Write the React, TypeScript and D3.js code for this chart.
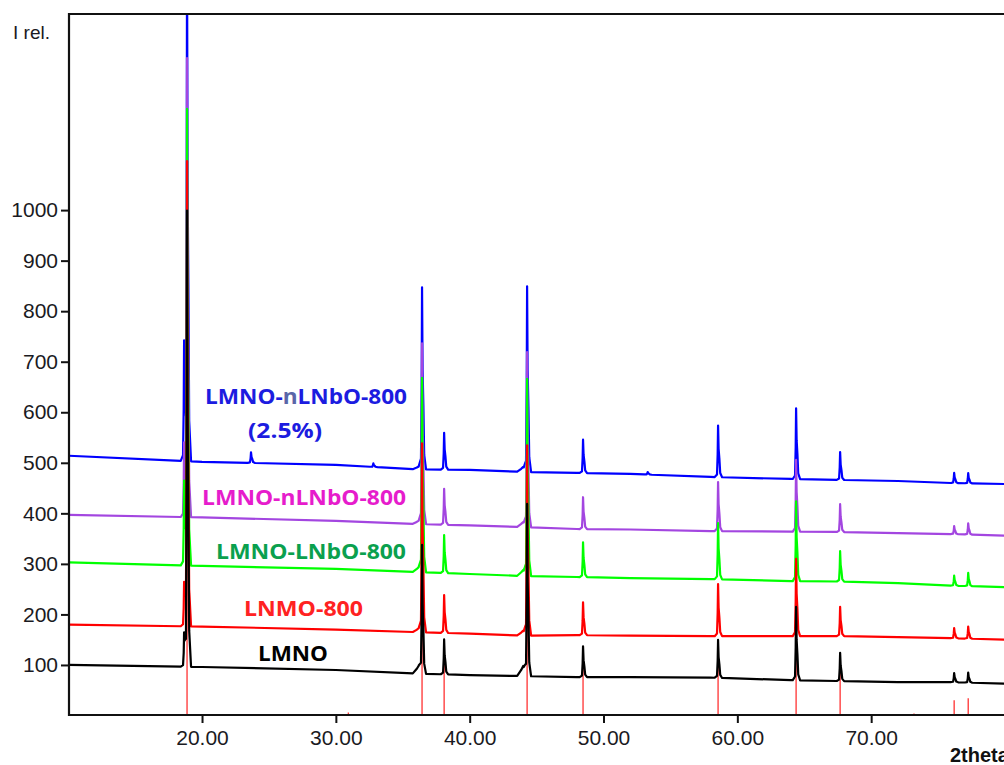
import React, { useEffect, useRef } from 'react';
import * as d3 from 'd3';

// 2theta positions of the sharp spinel reflections (18.66 is the small pre-spike)
const peakPositions = [18.66, 18.88, 36.44, 38.09, 44.29, 48.47, 58.56, 64.39, 67.68, 76.2, 77.25];
// small amorphous humps just before the big reflections
const bumpPositions = [36.2, 44.0];
// 2theta where the baselines were read
const baseX = [10, 20, 30, 36, 40, 44, 48, 52, 58, 64, 68, 72, 76, 80];

const lmnoBase = [100, 96, 90, 83, 80, 78, 76, 76, 75, 70, 68, 66, 66, 63];
const lmnoPeaks = [60, 900, 251, 69, 340, 61, 75, 145, 56, 18, 20];
const lmnoBumps = [16, 20];

const lnmo800Base = [180, 176, 170, 165, 162, 158, 159, 158, 157, 157, 157, 155, 153, 150];
const lnmo800Peaks = [80, 917, 372, 75, 376, 65, 103, 153, 58, 20, 24];
const lnmo800Bumps = [8, 10];

const lnboBase = [303, 296, 290, 284, 280, 276, 274, 272, 270, 266, 265, 262, 257, 254];
const lnboPeaks = [160, 896, 382, 75, 390, 69, 111, 158, 60, 20, 26];
const lnboBumps = [10, 12];

const nlnboBase = [397, 392, 385, 379, 376, 373, 369, 368, 365, 364, 363, 361, 359, 356];
const nlnboPeaks = [140, 902, 356, 71, 346, 63, 97, 142, 55, 16, 22];
const nlnboBumps = [7, 10];

const nlnbo25Base = [514, 502, 496, 487, 486, 482, 480, 478, 472, 468, 466, 464, 460, 458];
const nlnbo25Peaks = [230, 1000, 359, 73, 367, 66, 102, 140, 55, 20, 20];
const nlnbo25Bumps = [6, 10];
// small extra reflections only seen in the 2.5% sample
const nlnbo25ExtraPos = [23.66, 32.8, 53.3];
const nlnbo25ExtraHeights = [21, 7, 5];

// reference pattern sticks (red)
const stickPositions = [18.88, 30.93, 36.44, 38.09, 44.29, 48.47, 54.98, 58.56, 64.39, 67.68, 68.65, 73.2, 76.2, 77.25];
const stickHeights = [1000, 6, 330, 120, 420, 110, 3, 130, 180, 100, 3, 4, 30, 34];

const yTicks = [100, 200, 300, 400, 500, 600, 700, 800, 900, 1000];
const xTicks = [20, 30, 40, 50, 60, 70];

// drawn first to last: black ends up on top
const series = [
  { name: 'nlnbo25', color: '#0000ff', base: nlnbo25Base, peaks: nlnbo25Peaks, bumps: nlnbo25Bumps, extraPos: nlnbo25ExtraPos, extraH: nlnbo25ExtraHeights },
  { name: 'nlnbo', color: '#a346e0', base: nlnboBase, peaks: nlnboPeaks, bumps: nlnboBumps, extraPos: [], extraH: [] },
  { name: 'lnbo', color: '#00ff00', base: lnboBase, peaks: lnboPeaks, bumps: lnboBumps, extraPos: [], extraH: [] },
  { name: 'lnmo800', color: '#ff0000', base: lnmo800Base, peaks: lnmo800Peaks, bumps: lnmo800Bumps, extraPos: [], extraH: [] },
  { name: 'lmno', color: '#000000', base: lmnoBase, peaks: lmnoPeaks, bumps: lmnoBumps, extraPos: [], extraH: [] },
];

const labels = [
  { parts: [['LMNO-', '#1c1ce0'], ['n', '#5a66a8'], ['LNbO-800', '#1c1ce0']], x: 205, y: 404, w: 202 },
  { parts: [['(2.5%)', '#1c1ce0']], x: 248, y: 438, w: 74 },
  { parts: [['LMNO-nLNbO-800', '#e61ccc']], x: 202, y: 505, w: 204 },
  { parts: [['LMNO-LNbO-800', '#0aa04e']], x: 216, y: 559, w: 190 },
  { parts: [['LNMO-800', '#ff2222']], x: 244, y: 616, w: 119 },
  { parts: [['LMNO', '#000000']], x: 258, y: 661, w: 70 },
];

// peak profiles (offset in degrees -> fraction of height)
const sharpOff = [-0.25, -0.08, -0.03, 0, 0.04, 0.1, 0.16, 0.3];
const sharpFrac = [0, 0.05, 0.45, 1, 0.55, 0.35, 0.08, 0];
const broadOff = [-0.45, -0.15, 0, 0.15, 0.3];
const broadFrac = [0, 0.6, 1, 0.6, 0];

const W = 1004;
const H = 765;

const App = () => {
  const ref = useRef<SVGSVGElement>(null);

  useEffect(() => {
    const svg = d3.select(ref.current);
    svg.selectAll('*').remove();

    const left = 69, top = 14, bottom = 715, right = 1004;
    const x = d3.scaleLinear().domain([10, 80]).range([68.2, 1005]);
    const y = d3.scaleLinear().domain([0, 1388]).range([bottom + 0.5, top]);

    svg.append('defs').append('clipPath').attr('id', 'plot-clip')
      .append('rect').attr('x', left).attr('y', top).attr('width', right - left).attr('height', bottom - top);

    const sharp = d3.scaleLinear().domain(sharpOff).range(sharpFrac).clamp(true);
    const broad = d3.scaleLinear().domain(broadOff).range(broadFrac).clamp(true);

    const plot = svg.append('g').attr('clip-path', 'url(#plot-clip)');

    // reference sticks
    plot.selectAll('line.stick')
      .data(stickPositions.map((p, i) => ({ p, h: stickHeights[i] })))
      .enter().append('line')
      .attr('class', 'stick')
      .attr('x1', d => x(d.p)).attr('x2', d => x(d.p))
      .attr('y1', y(0)).attr('y2', d => y(d.h))
      .attr('stroke', '#ff2020').attr('stroke-width', 1.2);

    const line = d3.line<[number, number]>().x(d => x(d[0])).y(d => y(d[1]));

    series.forEach(s => {
      const base = d3.scaleLinear().domain(baseX).range(s.base);
      const sharpList = peakPositions.map((p, i) => [p, s.peaks[i]]).concat(s.extraPos.map((p, i) => [p, s.extraH[i]]));
      const broadList = bumpPositions.map((p, i) => [p, s.bumps[i]]);
      const xs = new Set<number>(baseX);
      sharpList.forEach(([p]) => sharpOff.forEach(o => xs.add(+(p + o).toFixed(3))));
      broadList.forEach(([p]) => broadOff.forEach(o => xs.add(+(p + o).toFixed(3))));
      const pts: [number, number][] = Array.from(xs).sort((a, b) => a - b).map(t => {
        let v = base(t);
        sharpList.forEach(([p, h]) => { v += h * sharp(t - p); });
        broadList.forEach(([p, h]) => { v += h * broad(t - p); });
        return [t, v];
      });
      plot.append('path')
        .datum(pts)
        .attr('d', line)
        .attr('fill', 'none')
        .attr('stroke', s.color)
        .attr('stroke-width', 2.2)
        .attr('stroke-linejoin', 'round');
    });

    // frame
    svg.append('path')
      .attr('d', `M${right},${top}H${left}V${bottom}H${right}`)
      .attr('fill', 'none').attr('stroke', '#111').attr('stroke-width', 2.2);

    // y axis
    const ya = svg.append('g')
      .attr('transform', `translate(${left},0)`)
      .call(d3.axisLeft(y).tickValues(yTicks).tickSize(8).tickPadding(3).tickFormat(d3.format('d')));
    ya.select('.domain').remove();
    ya.selectAll('line').attr('stroke', '#111').attr('stroke-width', 2);
    ya.selectAll('text').attr('font-family', 'Liberation Sans, Arial, sans-serif').attr('font-size', 21).attr('fill', '#1a1a22');

    // x axis
    const xa = svg.append('g')
      .attr('transform', `translate(0,${bottom})`)
      .call(d3.axisBottom(x).tickValues(xTicks).tickSize(8).tickPadding(7).tickFormat(d3.format('.2f')));
    xa.select('.domain').remove();
    xa.selectAll('line').attr('stroke', '#111').attr('stroke-width', 2);
    xa.selectAll('text').attr('font-family', 'Liberation Sans, Arial, sans-serif').attr('font-size', 21).attr('fill', '#1a1a22');

    svg.append('text')
      .attr('x', 13).attr('y', 39)
      .attr('font-family', 'Liberation Sans, Arial, sans-serif').attr('font-size', 19).attr('fill', '#1a1a22')
      .text('I rel.');

    // axis title runs off the right edge, as in the original
    svg.append('text')
      .attr('x', 950).attr('y', 762)
      .attr('font-family', 'Liberation Sans, Arial, sans-serif').attr('font-size', 20).attr('font-weight', 'bold').attr('fill', '#111')
      .text('2theta');

    labels.forEach(l => {
      const t = svg.append('text')
        .attr('x', l.x).attr('y', l.y)
        .attr('font-family', 'Open Sans, sans-serif').attr('font-weight', 700).attr('font-size', 22)
        .attr('textLength', l.w).attr('lengthAdjust', 'spacingAndGlyphs');
      l.parts.forEach(([txt, col]) => t.append('tspan').attr('fill', col).text(txt));
    });
  }, []);

  return (
    <svg ref={ref} width={W} height={H} style={{ position: 'absolute', left: 0, top: 0, background: '#fff' }} />
  );
};

export default App;
